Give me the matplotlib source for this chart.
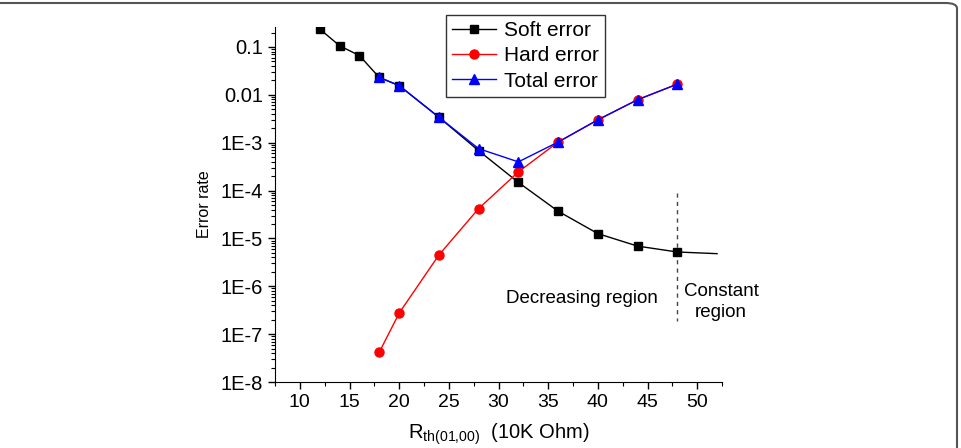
import matplotlib
matplotlib.use("Agg")
import matplotlib.pyplot as plt
from matplotlib.patches import FancyBboxPatch
from matplotlib.ticker import LogLocator, NullFormatter, MultipleLocator

plt.rcParams['font.family'] = ['Liberation Sans', 'DejaVu Sans']
plt.rcParams['mathtext.fontset'] = 'custom'
plt.rcParams['mathtext.rm'] = 'Liberation Sans'

# Data
soft_x = [12, 14, 16, 18, 20, 24, 28, 32, 36, 40, 44, 48, 52]
soft_y = [0.237, 0.106, 0.066, 0.023, 0.0156, 0.0034, 0.00068, 1.48e-4, 3.7e-5, 1.26e-5, 6.9e-6, 5.2e-6, 4.8e-6]
hard_x = [18, 20, 24, 28, 32, 36, 40, 44, 48]
hard_y = [4.2e-8, 2.75e-7, 4.5e-6, 4.2e-5, 2.45e-4, 1.03e-3, 3.0e-3, 7.9e-3, 0.0167]
total_x = [18, 20, 24, 28, 32, 36, 40, 44, 48]
total_y = [0.023, 0.0156, 0.0034, 0.00075, 3.97e-4, 1.03e-3, 3.0e-3, 7.9e-3, 0.0167]
ytick_vals = [1e-8, 1e-7, 1e-6, 1e-5, 1e-4, 1e-3, 1e-2, 1e-1]
ytick_labels = ['1E-8', '1E-7', '1E-6', '1E-5', '1E-4', '1E-3', '0.01', '0.1']
xtick_vals = [10, 15, 20, 25, 30, 35, 40, 45, 50]
boundary_x = 48

W, H = 961, 448
fig = plt.figure(figsize=(W / 100, H / 100), dpi=100)

# rounded frame
frame = FancyBboxPatch((-20 / W, -20 / H), (957 + 20) / W, (445 + 20) / H,
                       boxstyle="round,pad=0,rounding_size=0.012",
                       transform=fig.transFigure, fill=False,
                       edgecolor='#555555', linewidth=1.5, zorder=0)
fig.patches.append(frame)

ax = fig.add_axes([275 / W, 1 - 382 / H, (722 - 275) / W, (382 - 27) / H])
ax.set_yscale('log')
ax.set_xlim(7.5, 52.5)
ax.set_ylim(1e-8, 10 ** (-1 + 20 / 48))

ax.plot(soft_x, soft_y, color='black', lw=1, marker='s', markersize=5.5,
        markevery=list(range(len(soft_x) - 1)), label='Soft error', zorder=3)
ax.plot(hard_x, hard_y, color='red', lw=1, marker='o', markersize=6.5,
        label='Hard error', zorder=4)
ax.plot(total_x, total_y, color='blue', lw=1, marker='^', markersize=6.5,
        label='Total error', zorder=5)

ax.plot([boundary_x, boundary_x], [9e-5, 1.9e-7], color='#444444', lw=1,
        linestyle=(0, (3, 3)), zorder=2)

ax.text(38.4, 10 ** -6.25, 'Decreasing region', ha='center', va='center', fontsize=13.5)
ax.text(52.4, 10 ** -6.33, 'Constant\nregion', ha='center', va='center', fontsize=13.5,
        linespacing=1.3, clip_on=False)

for s in ['top', 'right']:
    ax.spines[s].set_visible(False)

ax.set_yticks(ytick_vals)
ax.set_yticklabels(ytick_labels)
ax.yaxis.set_minor_locator(LogLocator(base=10, subs=range(2, 10), numticks=20))
ax.yaxis.set_minor_formatter(NullFormatter())
ax.set_xticks(xtick_vals)
ax.xaxis.set_minor_locator(MultipleLocator(2.5))
ax.tick_params(axis='both', which='major', length=5, width=1, labelsize=14, direction='out')
ax.tick_params(axis='y', which='major', labelsize=14.5)
ax.tick_params(axis='both', which='minor', length=3, width=0.8, direction='out')

ax.set_ylabel('Error rate', fontsize=11.5, labelpad=6)
ax.set_xlabel(r'R$_{\mathregular{th(01{,}00)}}$  (10K Ohm)', fontsize=14.5, labelpad=8)

leg = ax.legend(loc='upper center', bbox_to_anchor=(0.56, 1.034), fontsize=15,
                frameon=True, fancybox=False, edgecolor='black', handlelength=2.1,
                borderpad=0.3, labelspacing=0.3, handletextpad=0.4, borderaxespad=0)
leg.get_frame().set_linewidth(1)

fig.savefig('out.png', dpi=100)
